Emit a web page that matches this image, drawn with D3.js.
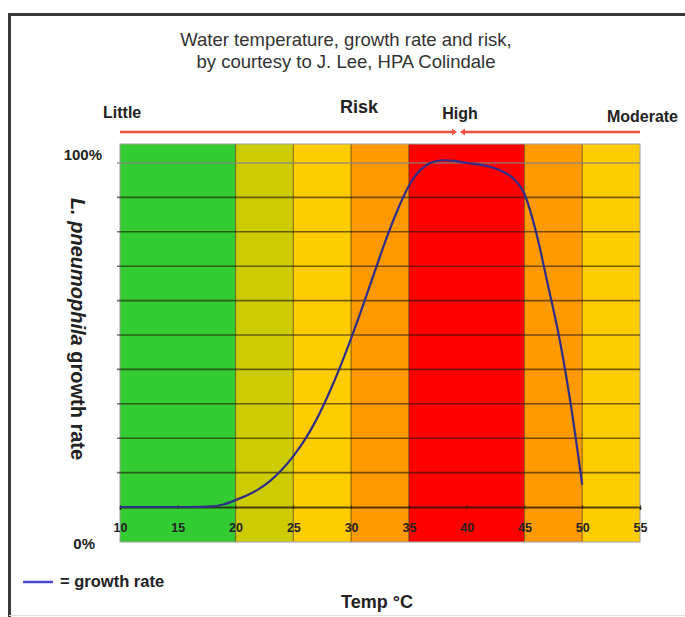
<!DOCTYPE html>
<html>
<head>
<meta charset="utf-8">
<script src="https://cdn.jsdelivr.net/npm/d3@7"></script>
<style>
  html, body { margin: 0; padding: 0; background: #fff; }
  svg { display: block; font-family: "Liberation Sans", Arial, sans-serif; }
</style>
</head>
<body>
<svg id="chart" width="685" height="617"></svg>
<script>
// ---- data ----
const titleLines = ["Water temperature, growth rate and risk,", "by courtesy to J. Lee, HPA Colindale"];
const bandStart = [10, 20, 25, 30, 35, 45, 50];
const bandEnd   = [20, 25, 30, 35, 45, 50, 55];
const bandRisk  = ["little", "low", "medium", "elevated", "high", "elevated", "medium"];
const riskLevels = ["little", "low", "medium", "elevated", "high"];
const riskPalette = ["#33CC33", "#CCCC00", "#FFCC00", "#FF9900", "#FF0000"];
const temps  = [10, 12, 14, 16, 18, 19, 20, 21, 22, 23, 24, 25, 26, 27, 28, 29, 30, 31, 32, 33, 34, 35, 36, 37, 38, 39, 40, 41, 42, 43, 44, 45, 46, 47, 48, 49, 50];
const growth = [0, 0, 0, 0, 0.2, 0.8, 2, 3.4, 5.2, 7.6, 10.8, 14.8, 19.6, 25.4, 32.4, 40.3, 49, 58.3, 68, 77.6, 86.2, 93.4, 98, 100.2, 100.8, 100.6, 100, 99.6, 98.9, 97.7, 95.6, 91, 80, 65, 49.5, 30, 6.5];
const xTicks = [10, 15, 20, 25, 30, 35, 40, 45, 50, 55];
const yGrid = [10, 20, 30, 40, 50, 60, 70, 80, 90, 100];

// ---- layout ----
const svg = d3.select("#chart");
const x = d3.scaleLinear().domain([10, 55]).range([120, 640]);
const y = d3.scaleLinear().domain([0, 100]).range([507, 163]);
const plotTop = 144, plotBottom = 542;
const color = d3.scaleOrdinal().domain(riskLevels).range(riskPalette);

// frame
svg.append("path").attr("d", "M9.5,617 V14.5 H685").attr("fill", "none")
  .attr("stroke", "#3a3a3a").attr("stroke-width", 3);
svg.append("line").attr("x1", 9).attr("x2", 685).attr("y1", 615.5).attr("y2", 615.5)
  .attr("stroke", "#ddd").attr("stroke-width", 1);

// title
svg.append("g").selectAll("text").data(titleLines).join("text")
  .attr("x", 346).attr("y", (d, i) => 46 + i * 22)
  .attr("text-anchor", "middle").attr("font-size", 18.5).attr("fill", "#333")
  .text(d => d);

// risk arrow header
const hdr = svg.append("g").attr("font-weight", "bold").attr("fill", "#222");
hdr.append("text").attr("x", 103).attr("y", 118).attr("font-size", 16).text("Little");
hdr.append("text").attr("x", 359).attr("y", 113).attr("font-size", 18).attr("text-anchor", "middle").text("Risk");
hdr.append("text").attr("x", 460).attr("y", 119).attr("font-size", 16).attr("text-anchor", "middle").text("High");
hdr.append("text").attr("x", 678).attr("y", 122).attr("font-size", 16).attr("text-anchor", "end").text("Moderate");

const arrowX = 457;
svg.append("line").attr("x1", x(10)).attr("x2", arrowX - 2).attr("y1", 132).attr("y2", 132)
  .attr("stroke", "#F05040").attr("stroke-width", 2.5);
svg.append("line").attr("x1", arrowX + 5).attr("x2", x(55)).attr("y1", 132).attr("y2", 132)
  .attr("stroke", "#F05040").attr("stroke-width", 2.5);
svg.append("path").attr("d", `M${arrowX - 5},128.5 L${arrowX},132 L${arrowX - 5},135.5 Z`).attr("fill", "#F05040");
svg.append("path").attr("d", `M${arrowX + 8},128.5 L${arrowX + 3},132 L${arrowX + 8},135.5 Z`).attr("fill", "#F05040");

// bands
const bands = bandStart.map((s, i) => ({ s, e: bandEnd[i], risk: bandRisk[i] }));
svg.append("g").selectAll("rect").data(bands).join("rect")
  .attr("x", d => x(d.s)).attr("width", d => x(d.e) - x(d.s))
  .attr("y", plotTop).attr("height", plotBottom - plotTop)
  .attr("fill", d => color(d.risk));
svg.append("g").selectAll("line").data(bandStart.slice(1)).join("line")
  .attr("x1", d => x(d)).attr("x2", d => x(d))
  .attr("y1", plotTop).attr("y2", plotBottom)
  .attr("stroke", "rgba(60,40,0,0.55)").attr("stroke-width", 1.2);
svg.append("rect").attr("x", x(10)).attr("y", plotTop)
  .attr("width", x(55) - x(10)).attr("height", plotBottom - plotTop)
  .attr("fill", "none").attr("stroke", "#a0a0a0").attr("stroke-width", 1);

// gridlines
svg.append("g").selectAll("line").data(yGrid).join("line")
  .attr("x1", x(10) - 3).attr("x2", x(55))
  .attr("y1", d => y(d)).attr("y2", d => y(d))
  .attr("stroke", d => d === 100 ? "rgba(130,130,130,0.8)" : "rgba(30,20,0,0.6)")
  .attr("stroke-width", 1.6);

// x axis
const xAxis = svg.append("g").attr("transform", `translate(0,${y(0)})`)
  .call(d3.axisBottom(x).tickValues(xTicks).tickSize(3).tickFormat(d3.format("d")));
xAxis.select(".domain").attr("stroke", "rgba(30,20,0,0.75)").attr("stroke-width", 1.8);
xAxis.selectAll(".tick line").attr("stroke", "rgba(30,20,0,0.6)").attr("y1", -2).attr("y2", 2);
xAxis.selectAll(".tick text").attr("y", 25).attr("dy", 0).attr("font-size", 12.5).attr("font-weight", "bold")
  .attr("fill", "#222").attr("font-family", "Liberation Sans, Arial, sans-serif");

// curve
const line = d3.line().x((d, i) => x(temps[i])).y(d => y(d)).curve(d3.curveMonotoneX);
svg.append("path").datum(growth).attr("d", line)
  .attr("fill", "none").attr("stroke", "#2e2e88").attr("stroke-width", 2.2);

// y labels
const yl = svg.append("g").attr("font-weight", "bold").attr("fill", "#222").attr("font-size", 15);
yl.append("text").attr("x", 102).attr("y", 160).attr("text-anchor", "end").text("100%");
yl.append("text").attr("x", 95).attr("y", 549).attr("text-anchor", "end").text("0%");

const yt = svg.append("text").attr("transform", "translate(71,329) rotate(90)")
  .attr("text-anchor", "middle").attr("font-size", 20).attr("font-weight", "bold").attr("fill", "#222");
yt.append("tspan").attr("font-style", "italic").text("L. pneumophila");
yt.append("tspan").text(" growth rate");

// legend
svg.append("line").attr("x1", 23).attr("x2", 53).attr("y1", 582).attr("y2", 582)
  .attr("stroke", "#4a4ad0").attr("stroke-width", 2.5);
svg.append("text").attr("x", 60).attr("y", 587).attr("font-size", 16.5).attr("font-weight", "bold")
  .attr("fill", "#222").text("= growth rate");

// x title
svg.append("text").attr("x", 377).attr("y", 608).attr("text-anchor", "middle")
  .attr("font-size", 18).attr("font-weight", "bold").attr("fill", "#222").text("Temp °C");
</script>
</body>
</html>
